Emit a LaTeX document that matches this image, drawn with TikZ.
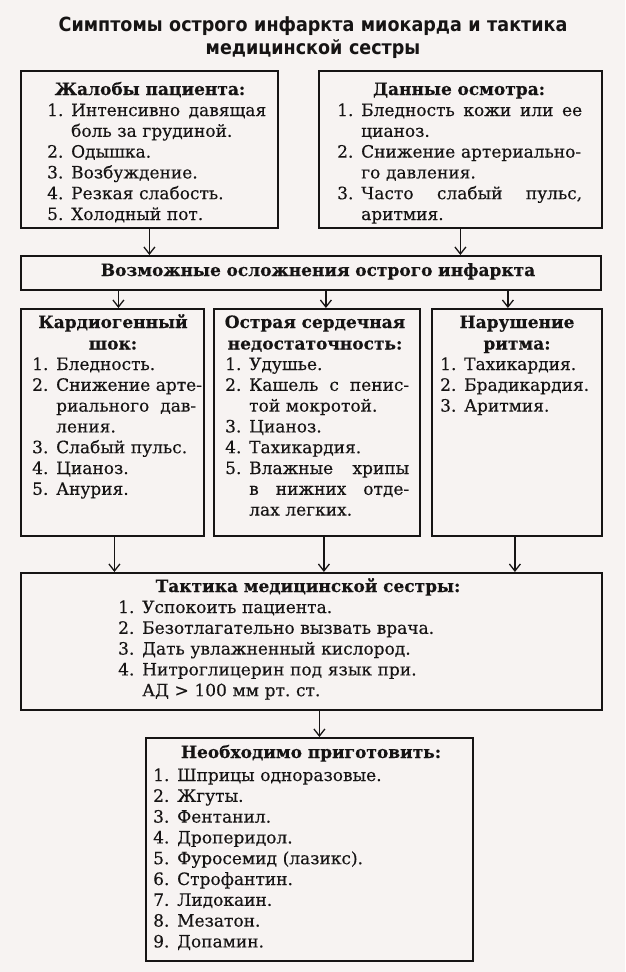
\documentclass[tikz,border=0pt]{standalone}
\usepackage{fontspec}
\setmainfont[FakeBold=0.3]{DejaVu Serif}
\newfontfamily\titlefont[FakeStretch=0.9]{DejaVu Sans}
\usetikzlibrary{
    positioning,
    arrows.meta
}

\definecolor{paper}{RGB}{247,243,242}
\definecolor{ink}{RGB}{22,20,20}

% номер пункта и отступ для продолжения строки
\newcommand{\nr}[1]{\makebox[24pt][l]{#1}}
\newcommand{\ind}{\hspace*{24pt}}
% строка, растянутая по ширине
\newcommand{\jl}[2]{\hbox to #1{\spaceskip=.32em plus 1fil\relax #2}}

\tikzset{
    box/.style={draw=ink, line width=1.8pt, inner sep=0pt, anchor=north west},
    head/.style={font=\bfseries\fontsize{17}{21.5}\selectfont, text=ink, align=center, anchor=base, inner sep=0pt},
    lst/.style={font=\fontsize{17}{20.8}\selectfont, text=ink, align=left, anchor=base west, inner sep=0pt},
    arr/.style={draw=ink, line width=1.3pt, -{Straight Barb[length=7pt,width=11pt,line width=1.3pt]}}
}

\begin{document}
\begin{tikzpicture}[x=1pt, y=-1pt]
        \fill[paper] (0,0) rectangle (625,972);
        \useasboundingbox (0,0) rectangle (625,972);

        % Заголовок
        \node[font=\titlefont\bfseries\fontsize{19.5}{23}\selectfont, text=ink, align=center, text width=600pt, anchor=base, inner sep=0pt] (title) at (313,31)
            {Симптомы острого инфаркта миокарда и тактика\\медицинской сестры};

        % Жалобы пациента
        \node[box, minimum width=257pt, minimum height=157pt] (complaints) at (20,70) {};
        \node[head, text width=250pt] (complaints-h) at (150,95) {Жалобы пациента:};
        \node[lst, text width=230pt] (complaints-l) at (47,116) {%
            \nr{1.}\jl{195pt}{Интенсивно давящая}\\
            \ind боль за грудиной.\\
            \nr{2.}Одышка.\\
            \nr{3.}Возбуждение.\\
            \nr{4.}Резкая слабость.\\
            \nr{5.}Холодный пот.};

        % Данные осмотра
        \node[box, minimum width=283pt, minimum height=157pt] (exam) at (318,70) {};
        \node[head, text width=276pt] (exam-h) at (459,95) {Данные осмотра:};
        \node[lst, text width=260pt] (exam-l) at (337,116) {%
            \nr{1.}\jl{221pt}{Бледность кожи или ее}\\
            \ind цианоз.\\
            \nr{2.}Снижение артериально-\\
            \ind го давления.\\
            \nr{3.}\jl{221pt}{Часто слабый пульс,}\\
            \ind аритмия.};

        % Осложнения
        \node[box, minimum width=580pt, minimum height=34pt] (complic) at (20,255) {};
        \node[head, text width=570pt] (complic-h) at (318,276) {Возможные осложнения острого инфаркта};

        % Кардиогенный шок
        \node[box, minimum width=183pt, minimum height=227pt] (shock) at (20,308) {};
        \node[head, text width=180pt] (shock-h) at (113,328) {Кардиогенный\\шок:};
        \node[lst, text width=175pt] (shock-l) at (32,370) {%
            \nr{1.}Бледность.\\
            \nr{2.}\jl{140pt}{Снижение арте-}\\
            \ind\jl{140pt}{риального дав-}\\
            \ind ления.\\
            \nr{3.}Слабый пульс.\\
            \nr{4.}Цианоз.\\
            \nr{5.}Анурия.};

        % Острая сердечная недостаточность
        \node[box, minimum width=206pt, minimum height=227pt] (heartfail) at (213,308) {};
        \node[head, text width=204pt] (heartfail-h) at (315,328) {Острая сердечная\\недостаточность:};
        \node[lst, text width=195pt] (heartfail-l) at (225,370) {%
            \nr{1.}Удушье.\\
            \nr{2.}\jl{160pt}{Кашель с пенис-}\\
            \ind той мокротой.\\
            \nr{3.}Цианоз.\\
            \nr{4.}Тахикардия.\\
            \nr{5.}\jl{160pt}{Влажные хрипы}\\
            \ind\jl{160pt}{в нижних отде-}\\
            \ind лах легких.};

        % Нарушение ритма
        \node[box, minimum width=170pt, minimum height=227pt] (rhythm) at (431,308) {};
        \node[head, text width=168pt] (rhythm-h) at (517,328) {Нарушение\\ритма:};
        \node[lst, text width=165pt] (rhythm-l) at (440,370) {%
            \nr{1.}Тахикардия.\\
            \nr{2.}Брадикардия.\\
            \nr{3.}Аритмия.};

        % Тактика медицинской сестры
        \node[box, minimum width=581pt, minimum height=137pt] (tactics) at (20,572) {};
        \node[head, text width=570pt] (tactics-h) at (308,592) {Тактика медицинской сестры:};
        \node[lst, text width=420pt] (tactics-l) at (118,613) {%
            \nr{1.}Успокоить пациента.\\
            \nr{2.}Безотлагательно вызвать врача.\\
            \nr{3.}Дать увлажненный кислород.\\
            \nr{4.}Нитроглицерин под язык при.\\
            \ind АД > 100 мм рт.~ст.};

        % Необходимо приготовить
        \node[box, minimum width=327pt, minimum height=223pt] (prep) at (145,737) {};
        \node[head, text width=320pt] (prep-h) at (311,758) {Необходимо приготовить:};
        \node[lst, text width=310pt] (prep-l) at (153,781) {%
            \nr{1.}Шприцы одноразовые.\\
            \nr{2.}Жгуты.\\
            \nr{3.}Фентанил.\\
            \nr{4.}Дроперидол.\\
            \nr{5.}Фуросемид (лазикс).\\
            \nr{6.}Строфантин.\\
            \nr{7.}Лидокаин.\\
            \nr{8.}Мезатон.\\
            \nr{9.}Допамин.};

        % Стрелки
        \draw[arr] (complaints.south) -- (complaints.south |- complic.north);
        \draw[arr] (exam.south) -- (exam.south |- complic.north);
        \draw[arr] ([xshift=6pt]shock.north |- complic.south) -- ([xshift=6pt]shock.north);
        \draw[arr] ([xshift=9pt]heartfail.north |- complic.south) -- ([xshift=9pt]heartfail.north);
        \draw[arr] ([xshift=-9pt]rhythm.north |- complic.south) -- ([xshift=-9pt]rhythm.north);
        \draw[arr] ([xshift=2pt]shock.south) -- ([xshift=2pt]shock.south |- tactics.north);
        \draw[arr] ([xshift=7pt]heartfail.south) -- ([xshift=7pt]heartfail.south |- tactics.north);
        \draw[arr] ([xshift=-2pt]rhythm.south) -- ([xshift=-2pt]rhythm.south |- tactics.north);
        \draw[arr] ([xshift=10pt]prep.north |- tactics.south) -- ([xshift=10pt]prep.north);
    \end{tikzpicture}
\end{document}
